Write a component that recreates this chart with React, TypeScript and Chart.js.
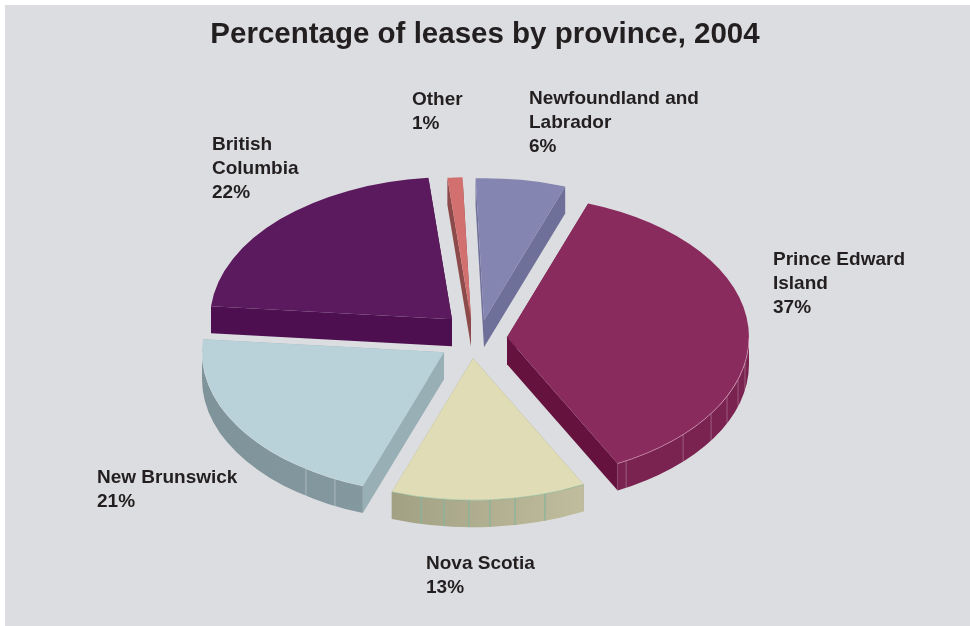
import React, { useEffect, useRef } from "react";
import { Chart, registerables } from "chart.js";

Chart.register(...registerables);

// ---- data ----
const titleText = "Percentage of leases by province, 2004";
const provinces = ["Newfoundland and\nLabrador", "Prince Edward\nIsland", "Nova Scotia", "New Brunswick", "British\nColumbia", "Other"];
const shares = [6, 37, 13, 21, 22, 1];

// ---- style ----
const topColors = ["#8585b2", "#8a2b5e", "#dfdcb6", "#b9d1d9", "#5b1a5e", "#d26f6f"];
const wallFrom = ["#6f7099", "#7a2250", "#a3a184", "#7f939b", "#4d0f50", "#8d4a4a"];
const wallTo = ["#6f7099", "#7a2250", "#bfbd9d", "#84989f", "#4d0f50", "#8d4a4a"];
const cutColors = ["#6f7099", "#65123f", "#a3a184", "#99afb6", "#4d0f50", "#8d4a4a"];
const facetColors = ["", "rgba(255,255,255,0.22)", "#86b59c", "rgba(255,255,255,0.28)", "", ""];
const rimColors = ["", "rgba(255,215,235,0.55)", "rgba(120,180,150,0.6)", "rgba(255,255,255,0.2)", "rgba(255,200,255,0.3)", ""];
// facet lines on the rim, in degrees clockwise from the top
const facets = [[], [150.5, 133.3, 122.5, 114.6, 107.3, 100.5], [192.4, 186.9, 181, 176, 170, 162.7], [214.8, 206.8], [], []];
// how far each slice is pulled from the pie's centre (screen px)
const pulls = [[12, -18], [35, -1], [1, 20], [-28, 14], [-20, -19], [-1, -19]];
const labelSpots = [[529, 99], [773, 260], [426, 564], [97, 478], [212, 145], [412, 100]];

const W = 970, H = 626;
const SQUASH = 0.587, DEPTH = 27;
const SHIFT_X = -13, SHIFT_Y = -1;
const TEXT = "#231f20";
const FONT = '"Liberation Sans", Arial, sans-serif';

const piePlugin = {
  id: "pie3d",
  beforeDraw(chart: any) {
    const c = chart.ctx;
    c.save();
    c.fillStyle = "#ffffff";
    c.fillRect(0, 0, W, H);
    c.fillStyle = "#dcdde0";
    c.fillRect(5, 5, W - 5, H - 5);
    c.restore();
  },
  beforeDatasetsDraw(chart: any) {
    const c = chart.ctx;
    const arcs = chart.getDatasetMeta(0).data;
    const d = DEPTH / SQUASH;
    arcs.forEach((arc: any, i: number) => {
      const { x, y, startAngle, endAngle, outerRadius: r } = arc;
      c.save();
      c.translate(x + SHIFT_X + pulls[i][0], y + SHIFT_Y + pulls[i][1]);
      c.scale(1, SQUASH);
      c.translate(-x, -y);
      // cut faces
      c.fillStyle = cutColors[i];
      [startAngle, endAngle].forEach((a: number) => {
        c.beginPath();
        c.moveTo(x, y);
        c.lineTo(x + r * Math.cos(a), y + r * Math.sin(a));
        c.lineTo(x + r * Math.cos(a), y + d + r * Math.sin(a));
        c.lineTo(x, y + d);
        c.closePath();
        c.fill();
      });
      // outer rim: only the part that faces the viewer
      const TAU = Math.PI * 2;
      const norm = (v: number) => ((v % TAU) + TAU) % TAU;
      const a0 = norm(startAngle);
      const a1 = a0 + (endAngle - startAngle);
      let b0 = Math.max(a0, 0);
      let b1 = Math.min(a1, Math.PI);
      if (a1 > TAU) {
        b0 = 0;
        b1 = Math.min(a1 - TAU, Math.PI);
      }
      if (b1 > b0) {
        const g = c.createLinearGradient(x + r * Math.cos(b1), 0, x + r * Math.cos(b0), 0);
        g.addColorStop(0, wallFrom[i]);
        g.addColorStop(1, wallTo[i]);
        c.fillStyle = g;
        c.beginPath();
        c.arc(x, y, r, b0, b1);
        c.arc(x, y + d, r, b1, b0, true);
        c.closePath();
        c.fill();
        facets[i].forEach((deg: number) => {
          const a = ((deg - 90) * Math.PI) / 180;
          c.strokeStyle = facetColors[i];
          c.lineWidth = 1.2;
          c.beginPath();
          c.moveTo(x + r * Math.cos(a), y + r * Math.sin(a));
          c.lineTo(x + r * Math.cos(a), y + d + r * Math.sin(a));
          c.stroke();
        });
      }
      // top face: the library's own arc element
      arc.draw(c);
      if (b1 > b0 && rimColors[i]) {
        c.strokeStyle = rimColors[i];
        c.lineWidth = 1;
        c.beginPath();
        c.arc(x, y, r, b0, b1);
        c.stroke();
      }
      c.restore();
    });
    return false;
  },
  afterDraw(chart: any) {
    const c = chart.ctx;
    c.save();
    c.fillStyle = TEXT;
    c.font = `bold 19px ${FONT}`;
    c.textBaseline = "middle";
    c.textAlign = "left";
    provinces.forEach((name: string, i: number) => {
      const lines = [...name.split("\n"), `${shares[i]}%`];
      lines.forEach((ln: string, k: number) => {
        c.fillText(ln, labelSpots[i][0], labelSpots[i][1] + k * 24);
      });
    });
    c.restore();
  },
};

export default function App() {
  const ref = useRef<HTMLCanvasElement>(null);
  useEffect(() => {
    const chart = new Chart(ref.current as HTMLCanvasElement, {
      type: "pie",
      data: {
        labels: provinces,
        datasets: [{ data: shares, backgroundColor: topColors, borderWidth: 0, radius: 242 }],
      },
      options: {
        responsive: false,
        animation: false,
        rotation: -2,
        layout: { padding: 0 },
        plugins: {
          legend: { display: false },
          tooltip: { enabled: false },
          title: {
            display: true,
            text: titleText,
            color: TEXT,
            font: { family: FONT, size: 29.5, weight: "bold", lineHeight: 1.2 },
            padding: { top: 17, bottom: 0 },
          },
        },
      },
      plugins: [piePlugin],
    } as any);
    return () => chart.destroy();
  }, []);
  return (
    <canvas
      ref={ref}
      width={W}
      height={H}
      style={{ position: "fixed", left: 0, top: 0, width: W, height: H, display: "block" }}
    />
  );
}
